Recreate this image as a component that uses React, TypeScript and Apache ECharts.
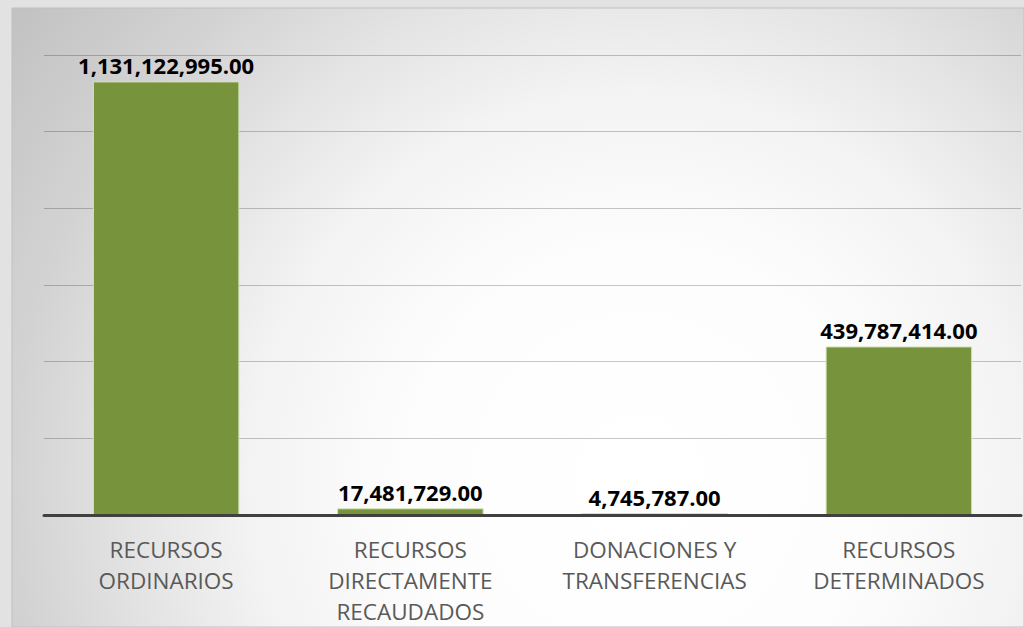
import React, { useEffect, useRef } from "react";
import * as echarts from "echarts";

const categories = [
  "RECURSOS\nORDINARIOS",
  "RECURSOS\nDIRECTAMENTE\nRECAUDADOS",
  "DONACIONES Y\nTRANSFERENCIAS",
  "RECURSOS\nDETERMINADOS",
];
const values = [1131122995.0, 17481729.0, 4745787.0, 439787414.0];
const yMax = 1200000000;
const yInterval = 200000000;

function fmt(v: number): string {
  return v.toLocaleString("en-US", { minimumFractionDigits: 2, maximumFractionDigits: 2 });
}

export default function App() {
  const ref = useRef<HTMLDivElement>(null);
  useEffect(() => {
    document.body.style.margin = "0";
    const chart = echarts.init(ref.current!, null, { renderer: "svg" });
    chart.setOption({
      animation: false,
      backgroundColor: "#e2e2e2",
      graphic: [
        {
          type: "rect",
          silent: true,
          z: -10,
          shape: { x: 12, y: 8, width: 1012, height: 619 },
          style: {
            fill: new echarts.graphic.RadialGradient(
              640,
              480,
              780,
              [
                { offset: 0, color: "#ffffff" },
                { offset: 0.3, color: "#fdfdfd" },
                { offset: 0.5, color: "#f3f3f3" },
                { offset: 0.65, color: "#e4e4e4" },
                { offset: 0.8, color: "#d3d3d3" },
                { offset: 1, color: "#c2c2c2" },
              ],
              true
            ),
            stroke: "#c0c0c0",
            lineWidth: 1,
          },
        },
      ],
      grid: { left: 44, right: 3, top: 55, bottom: 111, containLabel: false },
      xAxis: {
        type: "category",
        data: categories,
        axisTick: { show: false },
        axisLine: { show: true, lineStyle: { color: "#404040", width: 3 } },
        axisLabel: {
          interval: 0,
          color: "#595959",
          fontFamily: "Open Sans",
          fontSize: 22.5,
          lineHeight: 31,
          margin: 19,
        },
        z: 5,
      },
      yAxis: {
        type: "value",
        min: 0,
        max: yMax,
        interval: yInterval,
        axisLabel: { show: false },
        axisLine: { show: false },
        axisTick: { show: false },
        splitLine: { show: true, lineStyle: { color: "rgba(0,0,0,0.22)", width: 1 } },
      },
      series: [
        {
          type: "bar",
          data: values,
          barCategoryGap: "40%",
          itemStyle: { color: "#77933C", borderColor: "#d7e4bd", borderWidth: 1 },
          label: {
            show: true,
            position: "top",
            distance: 5,
            color: "#000000",
            fontFamily: "Open Sans",
            fontWeight: "bold",
            fontSize: 22,
            formatter: (p: any) => fmt(p.value),
          },
        },
      ],
    });
    return () => chart.dispose();
  }, []);
  return <div ref={ref} style={{ width: 1024, height: 627 }} />;
}
